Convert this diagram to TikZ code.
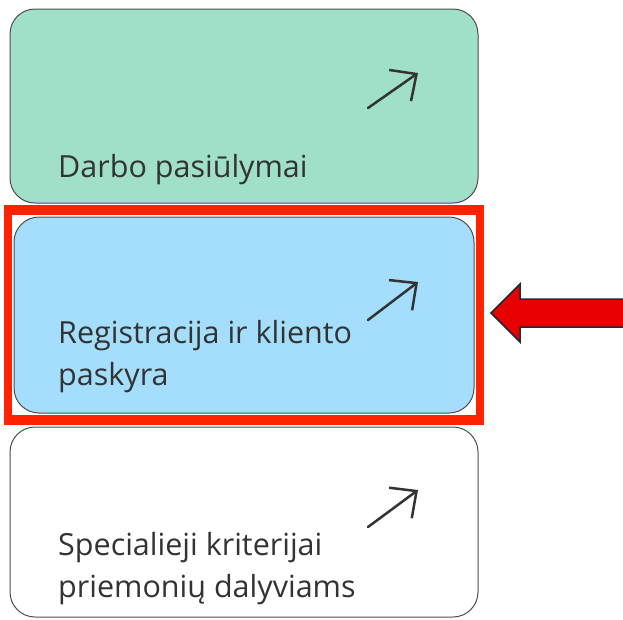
\documentclass[tikz,border=0pt]{standalone}
\usepackage{fontspec}
\setmainfont{Open Sans}
\usetikzlibrary{arrows.meta}
\definecolor{boxgreen}{HTML}{A0E0C8}
\definecolor{boxblue}{HTML}{A5DDFC}
\definecolor{framered}{HTML}{FF2200}
\definecolor{arrred}{HTML}{E80000}
\definecolor{arredge}{HTML}{1A2E3A}
\definecolor{txt}{HTML}{333333}
\tikzset{
  card/.style={draw=black!70, line width=1pt, rounded corners=25pt},
  label/.style={anchor=base west, inner sep=0pt, text=txt, font=\fontsize{30.5}{42}\selectfont, align=left},
  link/.style={draw=txt, line width=2.5pt, line cap=round, -{Straight Barb[length=20pt,width=38pt,line width=2.5pt]}},
}
\begin{document}
\begin{tikzpicture}[x=1pt,y=-1pt]
\useasboundingbox (0,0) rectangle (623,619);
% cards
\path[card, fill=boxgreen] (10,9) rectangle (478,203);
\fill[framered] (4,205) rectangle (484,425);
\fill[white] (12,215) rectangle (476,415);
\path[card, fill=boxblue] (14,217) rectangle (474,413);
\path[card, fill=white] (10,427) rectangle (478,617);
% labels
\node[label] (t1) at (58,177) {Darbo pasiūlymai};
\node[label] (t2) at (58,385) {Registracija ir kliento\\paskyra};
\node[label] (t3) at (58,597) {Specialieji kriterijai\\priemonių dalyviams};
% link arrows
\coordinate (a1s) at (368,108); \coordinate (a1e) at (418,73);
\coordinate (a2s) at (368,320); \coordinate (a2e) at (418,282);
\coordinate (a3s) at (368,527); \coordinate (a3e) at (418,490);
\draw[link] (a1s) -- (a1e);
\draw[link] (a2s) -- (a2e);
\draw[link] (a3s) -- (a3e);
% big red arrow
\draw[fill=arrred, draw=arredge, line width=1.5pt, line join=miter]
  (491,313) -- (520,284) -- (520,299) -- (626,299) -- (626,327) -- (520,327) -- (520,342) -- cycle;
\end{tikzpicture}
\end{document}
